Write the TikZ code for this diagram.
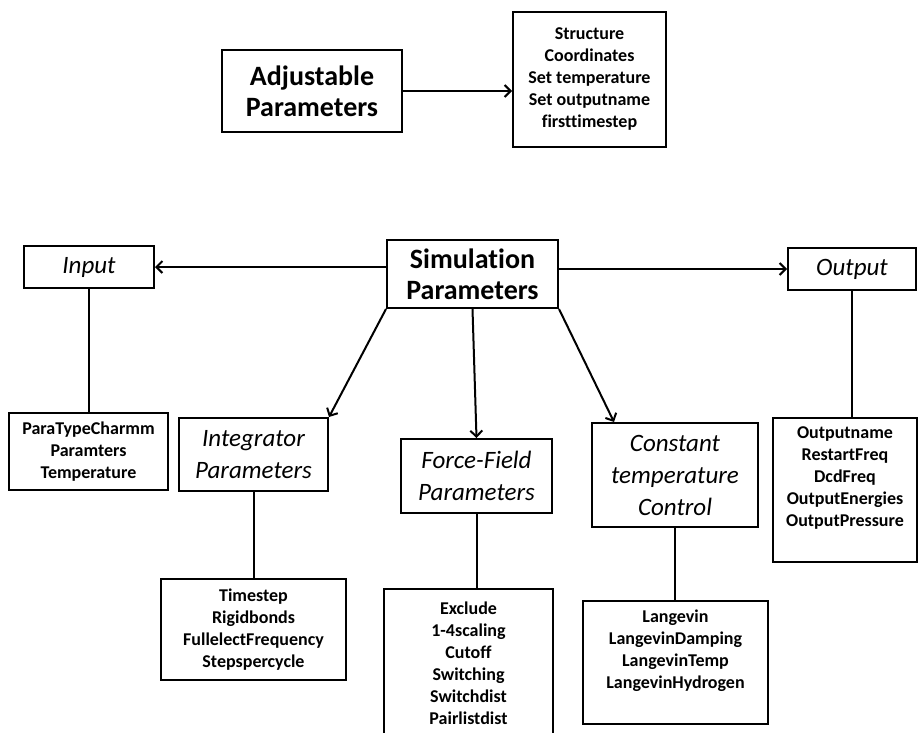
\documentclass[tikz,border=0pt]{standalone}
\usepackage{fontspec}
\setmainfont{Carlito}[Ligatures={NoCommon}]
\usetikzlibrary{arrows.meta}
\tikzset{
  box/.style={draw, line width=2pt, align=center, inner sep=2pt},
  headbox/.style={box, font=\fontsize{28}{31}\selectfont\bfseries},
  groupbox/.style={box, font=\fontsize{25}{32}\selectfont\itshape},
  listbox/.style={box, font=\fontsize{18}{22}\selectfont\bfseries},
  link/.style={line width=2pt},
  arr/.style={link, -{Straight Barb[length=6pt,width=12pt]}}
}
\begin{document}
\begin{tikzpicture}[x=1pt, y=-1pt]
    \clip (0,0) rectangle (920,732);

    \node [headbox, minimum width=180, minimum height=82] (adj) at (312,91) {Adjustable\\Parameters};
    \node [listbox, minimum width=153, minimum height=135] (setup) at (589.5,79.5)
        {Structure\\Coordinates\\Set temperature\\Set outputname\\firsttimestep};
    \draw [arr] (adj.east) -- (adj.east -| setup.west);

    \node [headbox, minimum width=171, minimum height=68] (sim) at (472.5,274) {Simulation\\Parameters};

    \node [groupbox, minimum width=130, minimum height=42] (input) at (89,267) {Input};
    \node [groupbox, minimum width=128, minimum height=42] (output) at (852,269) {Output};
    \node [groupbox, minimum width=149, minimum height=73] (integ) at (253.5,454.5) {Integrator\\Parameters};
    \node [groupbox, minimum width=151, minimum height=74] (force) at (476.5,476) {Force-Field\\Parameters};
    \node [groupbox, minimum width=166, minimum height=104] (ctrl) at (675,475) {Constant\\temperature\\Control};

    \draw [arr] (input.east -| sim.west) -- (input.east);
    \draw [arr] (output.west -| sim.east) -- (output.west);
    \draw [arr] (sim.south west) -- (integ.north east);
    \draw [arr] (sim.south) -- (force.north);
    \draw [arr] (sim.south east) -- ([xshift=23pt]ctrl.north west);

    \node [listbox, minimum width=159, minimum height=77] (inlist) at (88.5,451.5)
        {ParaTypeCharmm\\Paramters\\Temperature};
    \node [listbox, minimum width=185, minimum height=101] (intlist) at (253.5,629.5)
        {Timestep\\Rigidbonds\\FullelectFrequency\\Stepspercycle};
    \node [listbox, minimum width=169, minimum height=170, text depth=21pt, anchor=north] (fflist) at (468.5,588)
        {Exclude\\1-4scaling\\Cutoff\\Switching\\Switchdist\\Pairlistdist};
    \node [listbox, minimum width=185, minimum height=123, text depth=26pt] (tclist) at (675.5,662.5)
        {Langevin\\LangevinDamping\\LangevinTemp\\LangevinHydrogen};
    \node [listbox, minimum width=144, minimum height=144, text depth=26pt] (outlist) at (845,490)
        {Outputname\\RestartFreq\\DcdFreq\\OutputEnergies\\OutputPressure};

    \draw [link] (input.south) -- (input.south |- inlist.north);
    \draw [link] (integ.south) -- (integ.south |- intlist.north);
    \draw [link] (force.south) -- (force.south |- fflist.north);
    \draw [link] (ctrl.south) -- (ctrl.south |- tclist.north);
    \draw [link] (output.south) -- (output.south |- outlist.north);
\end{tikzpicture}
\end{document}
